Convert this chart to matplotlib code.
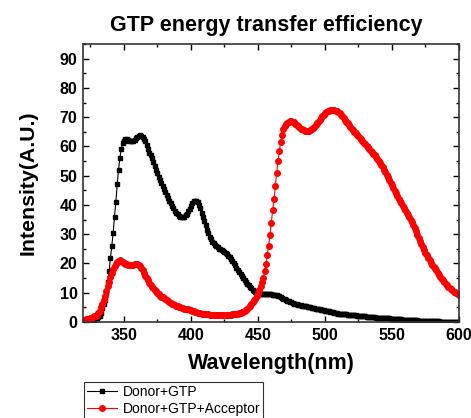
import numpy as np
import matplotlib
matplotlib.use("Agg")
import matplotlib.pyplot as plt
from matplotlib.ticker import MultipleLocator

wavelength = list(range(320, 601))

donor_gtp = [
    0.3, 0.3, 0.4, 0.4, 0.5, 0.5, 0.6, 0.7, 0.8, 1.0,
    1.2, 1.6, 2.2, 3.2, 4.8, 6.0, 7.5, 10, 13.5, 17.5,
    22, 26, 30.5, 36, 41, 47, 52, 56, 59, 61,
    62, 62.5, 62.5, 62.3, 62, 61.9, 61.9, 62, 62.3, 62.8,
    63.3, 63.6, 63.8, 63.7, 63.3, 62.6, 61.7, 60.5, 59.2, 57.8,
    57.2, 56, 54.7, 53.4, 52.1, 50.9, 49.7, 48.6, 47.5, 46.5,
    45.5, 44.5, 43.5, 42.5, 41.5, 40.6, 39.7, 38.9, 38.1, 37.4,
    36.8, 36.3, 36, 35.8, 35.8, 36, 36.4, 37, 37.8, 38.7,
    39.8, 40.6, 41.2, 41.5, 41.4, 40.9, 40, 38.8, 37.4, 36,
    34.5, 33, 31.6, 30.3, 29.2, 28.3, 27.5, 26.9, 26.3, 25.9,
    25.5, 25.1, 24.8, 24.5, 24.2, 23.9, 23.5, 23.1, 22.6, 22.1,
    21.5, 20.8, 20.1, 19.4, 18.5, 17.7, 17, 16.3, 15.6, 14.9,
    14.3, 13.7, 13.1, 12.5, 12, 11.5, 11.1, 10.7, 10.4, 10.1,
    9.9, 9.8, 9.7, 9.6, 9.5, 9.5, 9.4, 9.4, 9.4, 9.4,
    9.4, 9.3, 9.3, 9.2, 9.1, 9.0, 8.8, 8.6, 8.3, 8.0,
    7.8, 7.6, 7.3, 7.1, 6.9, 6.7, 6.5, 6.3, 6.2, 6.0,
    5.9, 5.8, 5.7, 5.6, 5.5, 5.4, 5.3, 5.2, 5.1, 5.0,
    4.9, 4.8, 4.7, 4.6, 4.5, 4.4, 4.3, 4.2, 4.1, 4.0,
    3.9, 3.8, 3.7, 3.6, 3.5, 3.4, 3.3, 3.2, 3.1, 3.0,
    2.9, 2.85, 2.8, 2.75, 2.7, 2.65, 2.6, 2.55, 2.5, 2.45,
    2.4, 2.35, 2.3, 2.25, 2.2, 2.15, 2.1, 2.05, 2.0, 1.95,
    1.9, 1.85, 1.8, 1.75, 1.7, 1.65, 1.6, 1.55, 1.5, 1.5,
    1.45, 1.4, 1.4, 1.35, 1.3, 1.3, 1.25, 1.2, 1.2, 1.15,
    1.1, 1.1, 1.05, 1.0, 1.0, 0.95, 0.9, 0.9, 0.85, 0.8,
    0.8, 0.75, 0.75, 0.7, 0.7, 0.65, 0.6, 0.6, 0.55, 0.55,
    0.5, 0.5, 0.45, 0.45, 0.4, 0.4, 0.35, 0.35, 0.3, 0.3,
    0.3, 0.25, 0.25, 0.2, 0.2, 0.2, 0.15, 0.15, 0.1, 0.1,
    0.1, 0.1, 0.05, 0.05, 0.05, 0, 0, 0, 0, 0, 0,
]

donor_gtp_acceptor = [
    0.7, 0.8, 0.9, 1.0, 1.1, 1.3, 1.5, 1.7, 1.9, 2.1,
    2.4, 3.0, 3.8, 5.0, 6.2, 7.5, 9.0, 10.6, 12.2, 13.8,
    15.3, 16.7, 18, 19, 19.9, 20.5, 21, 21.2, 21, 20.6,
    20.2, 19.9, 19.7, 19.5, 19.4, 19.4, 19.5, 19.6, 19.7, 19.8,
    19.8, 19.6, 19.2, 18.5, 17.6, 16.6, 15.8, 15.0, 14.2, 13.4,
    12.7, 12.1, 11.5, 11.0, 10.5, 10.0, 9.5, 9.0, 8.6, 8.4,
    8.2, 7.9, 7.6, 7.2, 6.9, 6.6, 6.3, 6.0, 5.7, 5.5,
    5.3, 5.1, 5.0, 4.9, 4.8, 4.6, 4.5, 4.4, 4.3, 4.2,
    4.1, 3.9, 3.7, 3.5, 3.3, 3.2, 3.1, 3.0, 2.9, 2.8,
    2.7, 2.7, 2.6, 2.6, 2.5, 2.5, 2.5, 2.4, 2.4, 2.4,
    2.4, 2.4, 2.4, 2.4, 2.4, 2.4, 2.4, 2.4, 2.5, 2.5,
    2.5, 2.6, 2.6, 2.7, 2.8, 2.9, 3.0, 3.1, 3.3, 3.5,
    3.8, 4.1, 4.5, 5.0, 5.6, 6.2, 6.8, 7.4, 8.0, 8.8,
    9.8, 11, 12.3, 13.5, 15, 17.3, 19.8, 22.8, 26, 29.8,
    34, 38.2, 42, 46.5, 51, 55, 58.5, 61.5, 64, 66,
    67, 67.7, 68.1, 68.4, 68.6, 68.6, 68.5, 68.2, 67.8, 67.3,
    66.9, 66.5, 66.1, 65.8, 65.6, 65.4, 65.3, 65.3, 65.4, 65.6,
    65.9, 66.3, 66.8, 67.3, 67.9, 68.5, 69.1, 69.7, 70.3, 70.8,
    71.3, 71.7, 72.0, 72.2, 72.4, 72.5, 72.5, 72.4, 72.2, 72.0,
    71.7, 71.3, 70.8, 70.3, 69.7, 69.1, 68.5, 67.9, 67.3, 66.7,
    66.1, 65.6, 65.0, 64.5, 64.0, 63.4, 62.9, 62.4, 61.8, 61.3,
    60.8, 60.2, 59.7, 59.2, 58.6, 58.1, 57.5, 56.9, 56.3, 55.6,
    55.0, 54.3, 53.6, 52.9, 52.1, 51.3, 50.4, 49.5, 48.6, 47.6,
    46.7, 45.8, 44.9, 44.0, 43.1, 42.2, 41.4, 40.6, 39.8, 39.0,
    38.2, 37.4, 36.6, 35.8, 35.0, 34.2, 33.1, 32.0, 31.0, 29.9,
    28.8, 27.7, 26.6, 25.6, 24.6, 23.7, 22.8, 21.9, 21.1, 20.3,
    19.6, 18.9, 18.3, 17.6, 16.9, 16.2, 15.5, 14.8, 14.2, 13.6,
    13.0, 12.5, 12.0, 11.6, 11.2, 10.8, 10.4, 10.1, 9.8, 9.5, 9.2,
]

series_labels = ["Donor+GTP", "Donor+GTP+Acceptor"]
title = "GTP energy transfer efficiency"
xlabel = "Wavelength(nm)"
ylabel = "Intensity(A.U.)"
xticks = [350, 400, 450, 500, 550, 600]
yticks = [0, 10, 20, 30, 40, 50, 60, 70, 80, 90]

plt.rcParams['font.family'] = ['Liberation Sans', 'DejaVu Sans']

fig = plt.figure(figsize=(4.71, 4.18), dpi=100)
ax = fig.add_axes([83/471, 1 - 322/418, (459 - 83)/471, (322 - 44)/418])

ax.plot(wavelength, donor_gtp, color='black', marker='s', markersize=3.4,
        linewidth=0.8, label=series_labels[0])
ax.plot(wavelength, donor_gtp_acceptor, color='red', marker='o', markersize=4.0,
        linewidth=0.8, label=series_labels[1])

ax.set_xlim(319.5, 600)
ax.set_ylim(0, 95)
ax.set_xticks(xticks)
ax.set_yticks(yticks)
ax.xaxis.set_minor_locator(MultipleLocator(25))
ax.yaxis.set_minor_locator(MultipleLocator(5))
ax.tick_params(which='both', direction='in', top=True, right=True, width=1)
ax.tick_params(which='major', length=4, labelsize=11.5, pad=4)
ax.tick_params(which='minor', length=2)
for lbl in ax.get_xticklabels() + ax.get_yticklabels():
    lbl.set_fontweight('bold')
for sp in ax.spines.values():
    sp.set_linewidth(1.2)
    sp.set_color('#333333')

ax.set_title(title, fontsize=15.5, fontweight='bold', pad=9, x=0.487)
ax.set_xlabel(xlabel, fontsize=15.5, fontweight='bold', labelpad=7.5)
ax.set_ylabel(ylabel, fontsize=15.3, fontweight='bold', labelpad=16)

leg = fig.legend(loc='upper left', bbox_to_anchor=(84/471, 1 - 382/418),
                 fontsize=10, frameon=True, fancybox=False, borderaxespad=0,
                 handlelength=2.2, handletextpad=0.4, borderpad=0.2,
                 labelspacing=0.25, markerscale=1.0)
leg.get_frame().set_edgecolor('black')
leg.get_frame().set_linewidth(0.8)

fig.savefig("out.png", dpi=100)
